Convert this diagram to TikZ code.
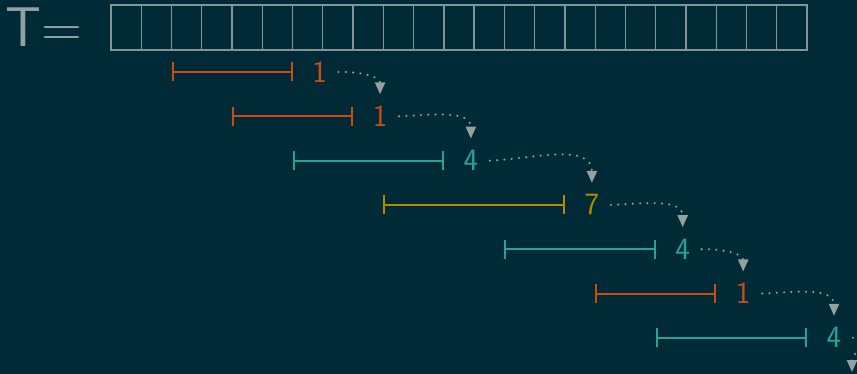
\documentclass[tikz,border=0pt]{standalone}
\usetikzlibrary{arrows.meta,calc}
\definecolor{bg}{HTML}{002B36}
\definecolor{sorange}{HTML}{CB4B16}
\definecolor{steal}{HTML}{2AA198}
\definecolor{syellow}{HTML}{B58900}
\definecolor{sgray}{HTML}{93A1A1}
\definecolor{sgrid}{HTML}{839496}
\tikzset{
  cellbox/.style={draw=sgrid, line width=1.3pt},
  interval/.style={line width=2pt, {Bar[width=19pt,line width=2pt]}-{Bar[width=19pt,line width=2pt]}},
  lab/.style={inner sep=0pt, font=\sffamily\fontsize{31}{31}\selectfont},
  flow/.style={draw=sgray, line width=2.3pt, dash pattern=on 0pt off 7.3pt, line cap=round,
    -{Triangle[width=10pt,length=12pt]}, shorten >=0pt}
}
\begin{document}
\begin{tikzpicture}[x=1pt,y=-1pt]
\fill[bg] (0,0) rectangle (857,374);
\useasboundingbox (0,0) rectangle (857,374);
\node[anchor=base west, inner sep=0pt, text=sgray, font=\sffamily\fontsize{56}{56}\selectfont] (T) at (5.5,47) {T=};
\foreach \i in {0,...,22} {
  \draw[cellbox] (111+\i*30.26,5) rectangle ++(30.26,45);
}
\foreach \s/\e/\r/\c/\t in {2/6/1/sorange/1, 4/8/2/sorange/1, 6/11/3/steal/4, 9/15/4/syellow/7, 13/18/5/steal/4, 16/20/6/sorange/1, 18/23/7/steal/4} {
  \coordinate (a\r) at (111+\s*30.26, 72+\r*44.3-44.3);
  \coordinate (b\r) at (111+\e*30.26, 72+\r*44.3-44.3);
  \draw[interval, draw=\c] (a\r) -- (b\r);
  \node[lab, text=\c] (l\r) at ($(b\r)+(27,0)$) {\t};
}
\coordinate (lend) at (852,372);
\foreach \a/\b in {1/2,2/3,3/4,4/5,5/6,6/7} {
  \draw[flow] ($(l\a.center)+(19,0)$) to[out=2,in=90] ($(l\b.center)+(0,-22)$);
}
\draw[flow] ($(l7.center)+(19,0)$) to[out=0,in=90,looseness=1.2] (lend);
\end{tikzpicture}
\end{document}
